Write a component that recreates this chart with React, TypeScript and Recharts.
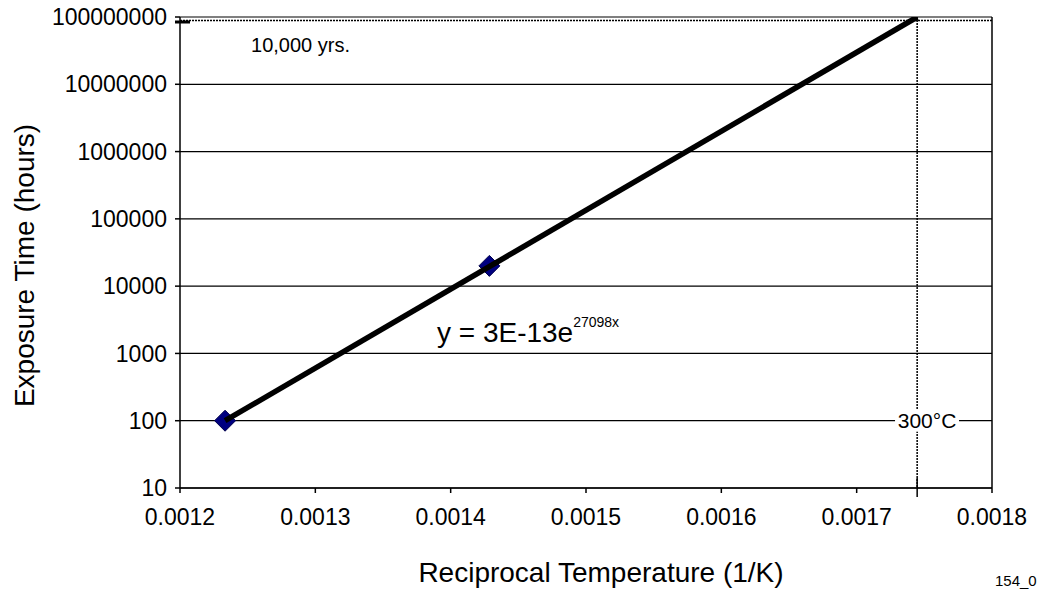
import React from 'react';
import {
  ScatterChart,
  Scatter,
  XAxis,
  YAxis,
  CartesianGrid,
  ReferenceLine,
  ReferenceDot,
} from 'recharts';

const FONT = '"Liberation Sans", Arial, sans-serif';

// test points: reciprocal temperature (1/K) vs hours
const testX = [0.0012333, 0.0014286];
const testHours = [100, 20000];

// exponential fit, drawn from the first point up to 300°C
const fitX = [0.0012333, 0.0017447];
const fitHours = [100, 100000000];

const xTicks = [0.0012, 0.0013, 0.0014, 0.0015, 0.0016, 0.0017, 0.0018];
const yTicks = [10, 100, 1000, 10000, 100000, 1000000, 10000000, 100000000];

const limitX = 0.0017447; // 1 / 573.15 K
const limitHours = 100000000;

const testData = testX.map((x, i) => ({ x, y: testHours[i] }));
const fitData = fitX.map((x, i) => ({ x, y: fitHours[i] }));

const Diamond = (props: any) => {
  const { cx, cy } = props;
  const r = 10.5;
  return (
    <polygon
      points={`${cx},${cy - r} ${cx + r},${cy} ${cx},${cy + r} ${cx - r},${cy}`}
      fill="#000080"
      stroke="#00004a"
      strokeWidth={1}
    />
  );
};

const TopMarker = (p: any) => {
  const y = p.y1 + 3.5;
  return (
    <g>
      <line x1={p.x1} x2={p.x2} y1={y} y2={y} stroke="#000" strokeWidth={1.5} strokeDasharray="2 1" />
      <line x1={p.x1 - 5} x2={p.x1 + 10} y1={y + 1.5} y2={y + 1.5} stroke="#000" strokeWidth={3} />
    </g>
  );
};

const LimitMarker = (p: any) => {
  const top = Math.min(p.y1, p.y2);
  const bottom = Math.max(p.y1, p.y2);
  return (
    <g>
      <line x1={p.x1} x2={p.x1} y1={top} y2={bottom} stroke="#000" strokeWidth={1.5} strokeDasharray="2 1" />
      <line x1={p.x1} x2={p.x1} y1={bottom - 10} y2={bottom + 9} stroke="#000" strokeWidth={1.5} />
    </g>
  );
};

const TempTag = ({ cx, cy }: any) => (
  <g>
    <rect x={cx - 32} y={cy - 11} width={64} height={22} fill="#fff" />
    <text x={cx} y={cy} dy="0.36em" textAnchor="middle" fontSize={21} fontFamily={FONT} fill="#000">
      300°C
    </text>
  </g>
);

const Equation = ({ cx, cy }: any) => (
  <text x={cx} y={cy} fontSize={28} fontFamily={FONT} fill="#000">
    y = 3E-13e
    <tspan fontSize={14} dy={-15}>27098x</tspan>
  </text>
);

const YearsNote = ({ cx, cy }: any) => (
  <text x={cx} y={cy} fontSize={20} fontFamily={FONT} fill="#000">
    10,000 yrs.
  </text>
);

const YTitle = ({ viewBox }: any) => {
  const x = viewBox.x + 24;
  const y = viewBox.y + viewBox.height / 2 + 13;
  return (
    <text x={x} y={y} transform={`rotate(-90 ${x} ${y})`} textAnchor="middle" dominantBaseline="central"
      fontSize={28} fontFamily={FONT} fill="#000">
      Exposure Time (hours)
    </text>
  );
};

const XTitle = ({ viewBox }: any) => (
  <g>
    <text x={viewBox.x + viewBox.width / 2 + 15} y={viewBox.y + 94} textAnchor="middle"
      fontSize={28} fontFamily={FONT} fill="#000">
      Reciprocal Temperature (1/K)
    </text>
    <text x={995} y={586} fontSize={15} fontFamily={FONT} fill="#000">154_0</text>
  </g>
);

const App: React.FC = () => {
  const tick = { fontSize: 23, fill: '#000', fontFamily: FONT };
  return (
    <div style={{ position: 'absolute', left: 0, top: 0, background: '#fff' }}>
      <ScatterChart width={1039} height={590} margin={{ top: 17, right: 47, left: 0, bottom: 0 }}>
        <CartesianGrid vertical={false} stroke="#000" strokeWidth={1.2} />
        <XAxis
          type="number"
          dataKey="x"
          domain={[0.0012, 0.0018]}
          ticks={xTicks}
          allowDataOverflow
          tickFormatter={(v: number) => v.toFixed(4)}
          tick={tick}
          tickSize={5}
          tickMargin={16}
          height={102}
          stroke="#000"
          strokeWidth={1.5}
          label={{ content: XTitle }}
        />
        <YAxis
          type="number"
          dataKey="y"
          scale="log"
          domain={[10, 100000000]}
          ticks={yTicks}
          allowDataOverflow
          tickFormatter={(v: number) => String(v)}
          tick={tick}
          tickSize={5}
          tickMargin={8}
          width={180}
          stroke="#000"
          strokeWidth={1.5}
          label={{ content: YTitle }}
        />
        <ReferenceLine x={0.0018} stroke="#000" strokeWidth={1.5} />
        <ReferenceLine y={limitHours} shape={TopMarker} />
        <ReferenceLine x={limitX} shape={LimitMarker} />
        <Scatter data={testData} shape={Diamond} isAnimationActive={false} />
        <Scatter
          data={fitData}
          line={{ stroke: '#000', strokeWidth: 5.5 }}
          shape={() => <g />}
          isAnimationActive={false}
        />
        <ReferenceDot x={0.001752} y={100} shape={TempTag} />
        <ReferenceDot x={0.0013899} y={1480} shape={Equation} />
        <ReferenceDot x={0.0012525} y={30000000} shape={YearsNote} />
      </ScatterChart>
    </div>
  );
};

export default App;
